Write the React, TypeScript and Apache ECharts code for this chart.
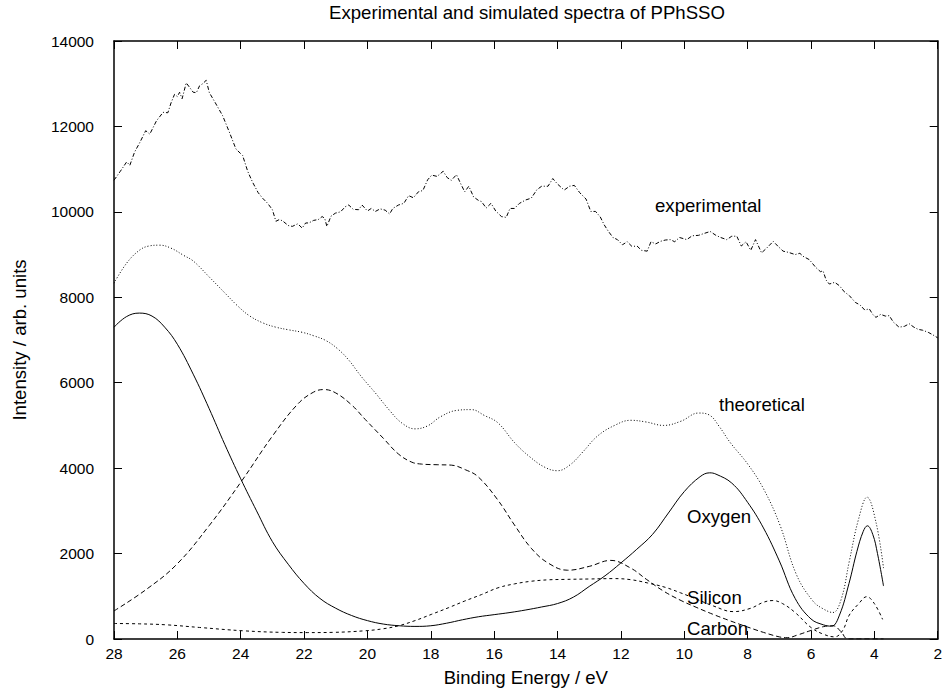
import React, { useEffect, useRef } from "react";
import * as echarts from "echarts";

const titleText = "Experimental and simulated spectra of PPhSSO";
const xName = "Binding Energy / eV";
const yName = "Intensity / arb. units";

const expX = [28.0, 27.8, 27.6, 27.5, 27.35, 27.18, 27.0, 26.87, 26.66, 26.45, 26.3, 26.2, 26.09, 26.0, 25.93, 25.85, 25.72, 25.6, 25.5, 25.4, 25.3, 25.2, 25.09, 24.99, 24.8, 24.57, 24.35, 24.15, 23.94, 23.78, 23.63, 23.45, 23.31, 23.15, 23.0, 22.89, 22.78, 22.68, 22.5, 22.37, 22.2, 22.06, 21.95, 21.85, 21.7, 21.55, 21.43, 21.35, 21.28, 21.15, 21.01, 20.85, 20.7, 20.59, 20.45, 20.28, 20.17, 20.0, 19.88, 19.75, 19.6, 19.44, 19.3, 19.2, 19.02, 18.85, 18.7, 18.55, 18.39, 18.25, 18.1, 17.97, 17.8, 17.61, 17.48, 17.35, 17.19, 17.05, 16.93, 16.8, 16.65, 16.5, 16.4, 16.25, 16.1, 15.95, 15.77, 15.62, 15.5, 15.36, 15.2, 15.0, 14.83, 14.65, 14.5, 14.3, 14.15, 14.0, 13.79, 13.62, 13.47, 13.3, 13.1, 12.95, 12.8, 12.65, 12.53, 12.4, 12.25, 12.11, 11.95, 11.8, 11.65, 11.49, 11.35, 11.17, 11.05, 10.9, 10.75, 10.6, 10.44, 10.3, 10.15, 9.92, 9.75, 9.55, 9.35, 9.18, 9.0, 8.85, 8.66, 8.5, 8.34, 8.2, 8.05, 7.9, 7.75, 7.56, 7.4, 7.19, 7.05, 6.88, 6.7, 6.5, 6.35, 6.25, 6.05, 5.85, 5.7, 5.62, 5.52, 5.42, 5.25, 5.1, 4.95, 4.79, 4.6, 4.45, 4.3, 4.16, 4.05, 3.95, 3.8, 3.65, 3.53, 3.4, 3.22, 3.05, 2.9, 2.75, 2.62, 2.48, 2.3, 2.15, 2.0];
const expY = [10740, 10950, 11170, 11090, 11400, 11630, 11900, 11820, 12130, 12330, 12320, 12550, 12750, 12700, 12800, 12650, 13020, 12900, 12800, 12790, 12950, 13000, 13080, 12790, 12550, 12250, 11850, 11470, 11320, 10950, 10700, 10450, 10320, 10200, 10050, 9780, 9820, 9790, 9680, 9660, 9720, 9620, 9740, 9740, 9800, 9820, 9890, 9850, 9660, 9900, 9970, 10000, 10120, 10160, 10060, 10050, 10160, 10020, 10080, 10010, 10070, 10040, 9950, 10080, 10160, 10200, 10380, 10330, 10470, 10500, 10750, 10860, 10830, 10950, 10800, 10740, 10870, 10650, 10470, 10600, 10350, 10270, 10240, 10090, 10200, 10020, 9890, 9870, 10080, 10080, 10200, 10280, 10320, 10520, 10600, 10600, 10780, 10650, 10510, 10600, 10620, 10450, 10300, 10010, 10010, 9880, 9700, 9550, 9400, 9350, 9230, 9300, 9190, 9200, 9100, 9080, 9300, 9250, 9310, 9340, 9350, 9300, 9400, 9350, 9440, 9450, 9500, 9540, 9450, 9400, 9350, 9430, 9430, 9200, 9300, 9100, 9350, 9040, 9150, 9310, 9200, 9080, 9050, 9000, 9030, 8960, 8880, 8700, 8600, 8620, 8400, 8310, 8350, 8270, 8130, 8040, 7880, 7820, 7700, 7730, 7600, 7530, 7600, 7560, 7570, 7420, 7300, 7320, 7380, 7300, 7250, 7230, 7180, 7120, 7050];

const theoX = [28.0, 27.6, 27.2, 26.9, 26.56, 26.2, 25.8, 25.5, 25.0, 24.46, 24.1, 23.73, 23.3, 22.89, 22.5, 22.06, 21.7, 21.32, 20.95, 20.59, 20.2, 19.75, 19.3, 18.92, 18.5, 18.1, 17.7, 17.2, 16.72, 16.3, 15.88, 15.36, 14.9, 14.4, 14.0, 13.6, 13.2, 12.74, 12.2, 11.69, 11.2, 10.65, 10.1, 9.55, 9.2, 8.9, 8.55, 8.0, 7.5, 6.98, 6.46, 5.94, 5.6, 5.31, 5.05, 4.79, 4.5, 4.23, 3.95, 3.71];
const theoY = [8330, 8800, 9100, 9200, 9220, 9150, 8980, 8850, 8480, 8070, 7800, 7570, 7400, 7300, 7240, 7180, 7100, 6990, 6800, 6530, 6150, 5760, 5350, 5060, 4920, 4990, 5200, 5350, 5370, 5230, 5060, 4600, 4280, 4020, 3940, 4080, 4380, 4750, 5000, 5120, 5080, 5000, 5100, 5290, 5240, 4980, 4600, 4100, 3520, 2670, 1510, 890, 700, 620, 920, 1820, 2800, 3320, 2740, 1660];

const oxyX = [28.0, 27.6, 27.2, 26.8, 26.4, 26.0, 25.5, 25.0, 24.5, 24.0, 23.5, 23.0, 22.5, 22.0, 21.5, 21.0, 20.5, 20.0, 19.5, 19.0, 18.5, 18.0, 17.5, 17.0, 16.5, 16.0, 15.5, 15.0, 14.5, 14.0, 13.5, 13.0, 12.5, 12.0, 11.5, 11.0, 10.5, 10.0, 9.5, 9.2, 9.0, 8.5, 8.0, 7.5, 7.0, 6.5, 6.0, 5.6, 5.35, 5.1, 4.8, 4.55, 4.35, 4.22, 4.05, 3.9, 3.71];
const oxyY = [7300, 7550, 7630, 7560, 7300, 6900, 6200, 5400, 4550, 3750, 3000, 2280, 1750, 1300, 950, 720, 550, 430, 350, 310, 295, 310, 370, 450, 520, 570, 620, 680, 750, 830, 980, 1230, 1480, 1780, 2100, 2450, 2950, 3450, 3800, 3890, 3860, 3650, 3200, 2600, 1830, 950, 470, 330, 300, 560, 1300, 2050, 2520, 2650, 2450, 2000, 1240];

const carbonX = [28.0, 27.0, 26.03, 25.0, 23.96, 23.0, 22.2, 21.7, 21.37, 21.0, 20.5, 20.07, 19.5, 19.02, 18.6, 18.29, 17.8, 17.35, 16.9, 16.51, 15.9, 15.36, 14.83, 14.3, 13.68, 13.0, 12.32, 11.69, 11.2, 10.65, 10.1, 9.6, 9.1, 8.55, 8.0, 7.5, 7.0, 6.75, 6.4, 6.0, 5.6, 5.3, 5.05, 4.84, 4.4, 3.71];
const carbonY = [657, 1150, 1740, 2650, 3710, 4750, 5500, 5780, 5840, 5760, 5480, 5140, 4700, 4330, 4140, 4095, 4080, 4070, 3960, 3800, 3270, 2670, 2125, 1780, 1610, 1700, 1840, 1660, 1400, 1120, 900, 735, 580, 425, 280, 155, 50, 30, 100, 200, 290, 310, 170, 0, 0, 0];

const siliconX = [28.0, 27.2, 26.35, 25.3, 23.94, 22.68, 21.9, 21.11, 20.07, 19.5, 19.02, 18.5, 17.97, 17.45, 16.93, 16.4, 15.88, 15.36, 14.83, 14.3, 13.79, 13.0, 12.22, 11.7, 11.17, 10.6, 10.12, 9.6, 9.08, 8.45, 7.9, 7.5, 7.2, 6.9, 6.5, 6.0, 5.6, 5.25, 5.0, 4.79, 4.5, 4.24, 4.0, 3.74];
const siliconY = [363, 355, 332, 270, 193, 155, 150, 155, 193, 240, 309, 430, 580, 730, 889, 1040, 1198, 1290, 1352, 1385, 1395, 1405, 1414, 1390, 1314, 1210, 1082, 930, 773, 641, 720, 860, 900, 830, 620, 270, 110, 50, 200, 560, 820, 990, 830, 460];

const labels = [
  { text: "experimental", x: 655, y: 205 },
  { text: "theoretical", x: 719, y: 404 },
  { text: "Oxygen", x: 687, y: 516 },
  { text: "Silicon", x: 687, y: 597 },
  { text: "Carbon", x: 687, y: 628 },
];

const FONT = "Liberation Sans, Arial, Helvetica, sans-serif";

function pairs(xs: number[], ys: number[]) {
  return xs.map((x, i) => [x, ys[i]]);
}

export default function App() {
  const ref = useRef<HTMLDivElement>(null);
  useEffect(() => {
    if (!ref.current) return;
    const chart = echarts.init(ref.current, null, { renderer: "svg" });
    const axisLine = { show: true, onZero: false, lineStyle: { color: "#000", width: 1.5 } };
    const tick = { show: true, inside: true, length: 8, lineStyle: { color: "#000", width: 1 } };
    const line = (name: string, xs: number[], ys: number[], type: any, smooth: boolean | number) => ({
      name,
      type: "line",
      data: pairs(xs, ys),
      showSymbol: false,
      symbol: "none",
      smooth,
      lineStyle: { color: "#000", width: 1, type },
      z: 3,
    });
    chart.setOption({
      animation: false,
      backgroundColor: "#fff",
      grid: { left: 114, right: 4, top: 41, bottom: 47, containLabel: false },
      xAxis: [
        {
          type: "value",
          min: 2,
          max: 28,
          interval: 2,
          inverse: true,
          position: "bottom",
          name: xName,
          nameLocation: "middle",
          nameGap: 29,
          nameTextStyle: { color: "#000", fontSize: 18.6, fontFamily: FONT },
          axisLine,
          axisTick: tick,
          splitLine: { show: false },
          axisLabel: { color: "#000", fontSize: 15.5, fontFamily: FONT, margin: 6 },
        },
        {
          type: "value",
          min: 2,
          max: 28,
          interval: 2,
          inverse: true,
          position: "top",
          axisLine,
          axisTick: tick,
          splitLine: { show: false },
          axisLabel: { show: false },
        },
      ],
      yAxis: [
        {
          type: "value",
          min: 0,
          max: 14000,
          interval: 2000,
          position: "left",
          name: yName,
          nameLocation: "middle",
          nameGap: 85,
          nameTextStyle: { color: "#000", fontSize: 18.6, fontFamily: FONT },
          axisLine,
          axisTick: tick,
          splitLine: { show: false },
          axisLabel: { color: "#000", fontSize: 15.5, fontFamily: FONT, margin: 20, formatter: (v: number) => String(v) },
        },
        {
          type: "value",
          min: 0,
          max: 14000,
          interval: 2000,
          position: "right",
          axisLine,
          axisTick: tick,
          splitLine: { show: false },
          axisLabel: { show: false },
        },
      ],
      graphic: [
        {
          type: "text",
          x: 527,
          y: 12,
          style: { text: titleText, fill: "#000", font: `18.6px ${FONT}`, textAlign: "center", textVerticalAlign: "middle" },
        },
        ...labels.map((l) => ({
          type: "text",
          x: l.x,
          y: l.y,
          z: 10,
          style: { text: l.text, fill: "#000", font: `18.6px ${FONT}`, textAlign: "left", textVerticalAlign: "middle" },
        })),
      ],
      series: [
        line("experimental", expX, expY, [4, 2, 1, 2], false),
        line("theoretical", theoX, theoY, [1, 2], 0.4),
        line("Oxygen", oxyX, oxyY, "solid", 0.4),
        line("Carbon", carbonX, carbonY, [5, 3], 0.4),
        line("Silicon", siliconX, siliconY, [3, 3], 0.4),
      ],
    });
    return () => chart.dispose();
  }, []);
  return <div ref={ref} style={{ position: "fixed", left: 0, top: 0, width: 945, height: 692 }} />;
}
